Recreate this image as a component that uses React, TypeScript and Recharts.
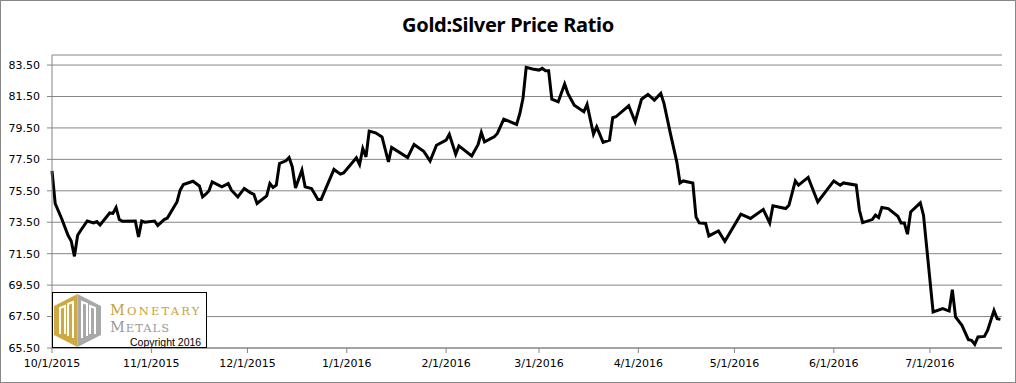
import React from 'react';
import { LineChart, Line, XAxis, YAxis, CartesianGrid } from 'recharts';

// daily gold:silver ratio readings (Oct 2015 - Jul 2016)
const dates = [
  '2015-10-01', '2015-10-02', '2015-10-04', '2015-10-06', '2015-10-07', '2015-10-08', '2015-10-09', '2015-10-10',
  '2015-10-12', '2015-10-14', '2015-10-15', '2015-10-16', '2015-10-19', '2015-10-20', '2015-10-21', '2015-10-22',
  '2015-10-23', '2015-10-27', '2015-10-28', '2015-10-29', '2015-10-30', '2015-11-02', '2015-11-03', '2015-11-05',
  '2015-11-06', '2015-11-09', '2015-11-10', '2015-11-11', '2015-11-14', '2015-11-16', '2015-11-17', '2015-11-18',
  '2015-11-19', '2015-11-20', '2015-11-23', '2015-11-25', '2015-11-26', '2015-11-28', '2015-11-30', '2015-12-02',
  '2015-12-03', '2015-12-04', '2015-12-07', '2015-12-08', '2015-12-09', '2015-12-10', '2015-12-11', '2015-12-13',
  '2015-12-14', '2015-12-15', '2015-12-16', '2015-12-18', '2015-12-19', '2015-12-21', '2015-12-23', '2015-12-24',
  '2015-12-28', '2015-12-30', '2015-12-31', '2016-01-04', '2016-01-05', '2016-01-06', '2016-01-07', '2016-01-08',
  '2016-01-10', '2016-01-12', '2016-01-14', '2016-01-15', '2016-01-20', '2016-01-22', '2016-01-25', '2016-01-27',
  '2016-01-29', '2016-02-01', '2016-02-02', '2016-02-04', '2016-02-05', '2016-02-09', '2016-02-11', '2016-02-12',
  '2016-02-13', '2016-02-16', '2016-02-17', '2016-02-19', '2016-02-23', '2016-02-24', '2016-02-25', '2016-02-26',
  '2016-02-28', '2016-03-01', '2016-03-02', '2016-03-03', '2016-03-04', '2016-03-05', '2016-03-07', '2016-03-09',
  '2016-03-10', '2016-03-12', '2016-03-15', '2016-03-16', '2016-03-18', '2016-03-19', '2016-03-21', '2016-03-23',
  '2016-03-24', '2016-03-25', '2016-03-29', '2016-03-31', '2016-04-02', '2016-04-04', '2016-04-06', '2016-04-08',
  '2016-04-09', '2016-04-11', '2016-04-13', '2016-04-14', '2016-04-15', '2016-04-18', '2016-04-19', '2016-04-20',
  '2016-04-22', '2016-04-23', '2016-04-26', '2016-04-28', '2016-05-03', '2016-05-06', '2016-05-10', '2016-05-12',
  '2016-05-13', '2016-05-17', '2016-05-18', '2016-05-20', '2016-05-21', '2016-05-24', '2016-05-27', '2016-06-01',
  '2016-06-03', '2016-06-04', '2016-06-08', '2016-06-09', '2016-06-10', '2016-06-13', '2016-06-14', '2016-06-15',
  '2016-06-16', '2016-06-18', '2016-06-21', '2016-06-22', '2016-06-23', '2016-06-24', '2016-06-25', '2016-06-28',
  '2016-06-29', '2016-07-02', '2016-07-05', '2016-07-07', '2016-07-08', '2016-07-09', '2016-07-11', '2016-07-13',
  '2016-07-14', '2016-07-15', '2016-07-16', '2016-07-18', '2016-07-19', '2016-07-21', '2016-07-22', '2016-07-23',
];

const ratios = [
  76.77, 74.69, 73.74, 72.67, 72.31, 71.33, 72.67, 72.99,
  73.58, 73.46, 73.54, 73.33, 74.09, 74.06, 74.44, 73.67,
  73.56, 73.58, 72.56, 73.58, 73.5, 73.58, 73.29, 73.67,
  73.77, 74.79, 75.54, 75.9, 76.11, 75.81, 75.11, 75.28,
  75.5, 76.07, 75.75, 75.96, 75.54, 75.11, 75.65, 75.37,
  75.28, 74.69, 75.18, 75.96, 75.71, 75.86, 77.24, 77.41,
  77.62, 77.02, 75.68, 76.81, 75.75, 75.65, 74.95, 74.95,
  76.86, 76.56, 76.64, 77.6, 77.17, 78.19, 77.66, 79.3,
  79.19, 78.93, 77.34, 78.26, 77.62, 78.45, 78.02, 77.4,
  78.4, 78.72, 79.1, 77.83, 78.36, 77.72, 78.45, 79.21,
  78.61, 78.93, 79.15, 80.06, 79.72, 80.4, 81.38, 83.35,
  83.25, 83.18, 83.29, 83.14, 83.14, 81.33, 81.16, 82.29,
  81.7, 80.95, 80.53, 81.0, 79.1, 79.57, 78.58, 78.72,
  80.15, 80.21, 80.91, 79.89, 81.33, 81.63, 81.27, 81.7,
  81.06, 79.15, 77.34, 76.0, 76.13, 76.0, 73.84, 73.46,
  73.42, 72.63, 72.95, 72.29, 74.01, 73.74, 74.31, 73.46,
  74.54, 74.37, 74.58, 76.13, 75.86, 76.35, 74.79, 76.13,
  75.86, 76.0, 75.86, 74.26, 73.48, 73.67, 73.95, 73.8,
  74.44, 74.37, 73.88, 73.46, 73.46, 72.74, 74.16, 74.73,
  73.95, 67.79, 68.0, 67.85, 69.21, 67.47, 66.94, 66.03,
  65.99, 65.73, 66.2, 66.24, 66.62, 67.89, 67.36, 67.32,
];

const monthTicks = [
  '2015-10-01', '2015-11-01', '2015-12-01', '2016-01-01', '2016-02-01',
  '2016-03-01', '2016-04-01', '2016-05-01', '2016-06-01', '2016-07-01',
];

const yTicks = [65.5, 67.5, 69.5, 71.5, 73.5, 75.5, 77.5, 79.5, 81.5, 83.5];

const START = Date.UTC(2015, 9, 1);
const dayOf = (iso: string) => Math.round((Date.parse(iso) - START) / 86400000);

const data = dates.map((d, i) => ({ day: dayOf(d), ratio: ratios[i] }));
const xTicks = monthTicks.map(dayOf);

const fmtDay = (day: number) => {
  const d = new Date(START + day * 86400000);
  return `${d.getUTCMonth() + 1}/${d.getUTCDate()}/${d.getUTCFullYear()}`;
};

const GRID = '#868686';
const GOLD = '#c9a23a';
const tickFont = { fontSize: 11, fill: '#000', fontFamily: 'DejaVu Sans' };

const Logo = () => (
  <div
    style={{
      position: 'absolute', left: 52, top: 292, width: 155, height: 56,
      background: '#fff', border: '1px solid #000', boxSizing: 'border-box',
    }}
  >
    <svg width={153} height={54} style={{ position: 'absolute', left: 0, top: 0 }}>
      {/* hexagon mark: gold left half, gray right half */}
      <polygon points="24.5,1 24.5,54 1,42 1,13" fill="#cfa93f" />
      <polygon points="24.5,1 48,13 48,42 24.5,54" fill="#a8a8a8" />
      <polyline points="7,41 7,15 12,13 12,41" fill="none" stroke="#fff" strokeWidth={2} />
      <polyline points="15,43 15,11 20,9 20,45" fill="none" stroke="#fff" strokeWidth={2} />
      <polyline points="29,45 29,9 34,11 34,43" fill="none" stroke="#fff" strokeWidth={2} />
      <polyline points="37,41 37,13 42,15 42,41" fill="none" stroke="#fff" strokeWidth={2} />
      <text x={57} y={22} fontFamily="DejaVu Serif" fill={GOLD} letterSpacing={2.2}>
        <tspan fontSize={14.5}>M</tspan>
        <tspan fontSize={11.5}>ONETARY</tspan>
      </text>
      <text x={57} y={38.5} fontFamily="DejaVu Serif" fill="#9a9a9a" letterSpacing={1}>
        <tspan fontSize={14.5}>M</tspan>
        <tspan fontSize={11.5}>ETALS</tspan>
      </text>
      <text x={77} y={52.5} fontFamily="Liberation Sans" fontSize={10.5} fill="#000">Copyright 2016</text>
    </svg>
  </div>
);

export default function App() {
  return (
    <div style={{ position: 'absolute', left: 0, top: 0, width: 1016, height: 383, background: '#fff' }}>
      <LineChart
        width={1016}
        height={383}
        data={data}
        margin={{ top: 55, right: 14, bottom: 0, left: 0 }}
      >
        <CartesianGrid vertical={false} stroke={GRID} strokeWidth={1} />
        <XAxis
          dataKey="day"
          type="number"
          domain={[0, 296.5]}
          ticks={xTicks}
          tickFormatter={fmtDay}
          interval={0}
          height={35}
          stroke={GRID}
          tickSize={5}
          tickMargin={6}
          tick={tickFont}
        />
        <YAxis
          type="number"
          domain={[65.5, 84.14]}
          ticks={yTicks}
          allowDataOverflow
          tickFormatter={(v: number) => v.toFixed(2)}
          width={52}
          stroke={GRID}
          tickSize={5}
          tickMargin={7}
          tick={tickFont}
        />
        <Line
          type="linear"
          dataKey="ratio"
          stroke="#000"
          strokeWidth={3}
          dot={false}
          isAnimationActive={false}
        />
      </LineChart>
      <div
        style={{
          position: 'absolute', left: 0, top: 11, width: 1016, textAlign: 'center',
          fontFamily: 'Noto Sans', fontWeight: 700, fontSize: 20, color: '#000',
          letterSpacing: -0.3,
        }}
      >
        Gold:Silver Price Ratio
      </div>
      <Logo />
      <div
        style={{
          position: 'absolute', left: 0, top: 0, width: 1016, height: 383,
          border: '1px solid #888', boxSizing: 'border-box', pointerEvents: 'none',
        }}
      />
    </div>
  );
}
